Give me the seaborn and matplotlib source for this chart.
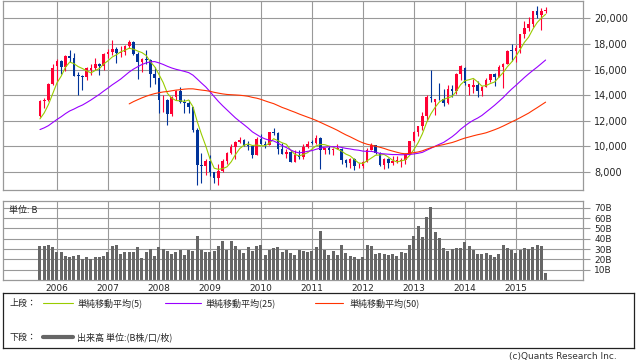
import numpy as np
import pandas as pd
import matplotlib
matplotlib.use("Agg")
import matplotlib.pyplot as plt
import seaborn as sns

# monthly candles, Sep 2005 .. Aug 2015 (last month partial)
months = pd.period_range("2005-09", "2015-08", freq="M")

# closes before the visible range, only used to warm up the moving averages
prior_close = [8425, 9083, 9563, 10344, 10219, 10560, 10101, 10677,
               10784, 11042, 11715, 11762, 11236, 11858, 11326, 11082, 10824, 10771, 10899, 11489,
               11388, 11740, 11669, 11009, 11277, 11584, 11900, 12414]

opens = [12414, 13574, 13606, 14872,
         16250, 16650, 16205, 17060, 16906, 15520, 15505, 15457, 16000, 16128, 16399, 16274,
         17226, 17383, 17604, 17288, 17400, 17876, 18138, 17248, 16569, 16786, 16737, 15680,
         15308, 13592, 13603, 12525, 13849, 14338, 13481, 13376, 13072, 11259, 8577, 8512,
         8860, 7994, 7568, 8109, 8828, 9522, 9958, 10356, 10492, 10133, 10034, 9345,
         10546, 10198, 10126, 11089, 11057, 9768, 9382, 9537, 8824, 9369, 9202, 9937,
         10352, 10237, 10624, 9708, 9849, 9693, 9816, 9833, 8955, 8700, 8988, 8434,
         8455, 8802, 9723, 10083, 9520, 8542, 9006, 8695, 8839, 8870, 8928, 9446,
         10395, 11138, 11559, 12397, 13860, 13500, 13677, 13668, 13389, 14455, 14327, 15662,
         16150, 14600, 14650, 14828, 14304, 14632, 15162, 15621, 15425, 16174, 16414, 17460,
         17451, 17674, 18798, 19207, 19520, 20563, 20236, 20585]
highs = [13617, 13769, 14956, 16446,
         16800, 16777, 17125, 17563, 17317, 15800, 15600, 16200, 16400, 16900, 16500, 17300,
         17600, 18300, 17750, 17800, 17900, 18300, 18262, 17400, 16900, 17488, 16800, 16200,
         15350, 14000, 13700, 13900, 14439, 14600, 13700, 13600, 13100, 11400, 9500, 9000,
         9325, 8000, 8600, 9000, 9600, 10170, 10400, 10767, 10600, 10400, 10100, 10700,
         10982, 10400, 11100, 11408, 11100, 10238, 9800, 9700, 9700, 9700, 10200, 10400,
         10520, 10891, 10700, 9850, 10017, 9900, 10207, 9900, 9000, 9100, 9100, 8700,
         8900, 9866, 10255, 10100, 9550, 9100, 9100, 9222, 9288, 9100, 9500, 10433,
         11200, 11600, 12650, 13980, 15942, 13700, 14953, 14466, 14817, 14800, 15750, 16320,
         16164, 14900, 15300, 15100, 14700, 15376, 15646, 15700, 16374, 16533, 17520, 18030,
         17900, 18800, 19778, 20133, 20600, 20953, 20800, 20900]
lows = [12300, 12996, 13550, 14800,
        15059, 15630, 15900, 16600, 15460, 14045, 14437, 15200, 15600, 16000, 15600, 16000,
        16900, 17100, 16500, 17000, 17100, 17700, 17100, 15262, 15800, 16400, 14669, 14900,
        12573, 12700, 11691, 12400, 13600, 13400, 12600, 12600, 11100, 6995, 7162, 7800,
        7671, 7154, 7021, 8000, 8600, 9400, 9050, 10300, 10000, 9700, 9076, 9300,
        10200, 9868, 10100, 10900, 9400, 9380, 9091, 8807, 8800, 9000, 9000, 9900,
        10200, 10200, 8227, 9400, 9400, 9351, 9800, 8656, 8359, 8343, 8135, 8300,
        8349, 8800, 9700, 9400, 8500, 8238, 8328, 8550, 8700, 8400, 8600, 9400,
        10350, 10800, 11300, 12000, 13500, 12415, 13600, 13188, 13300, 13850, 14100, 15150,
        14800, 13995, 14200, 13885, 13964, 14600, 15000, 14753, 15400, 14529, 16400, 16672,
        16592, 17300, 18500, 19000, 19300, 19990, 19115, 20400]
closes = [13574, 13606, 14872, 16111,
          16650, 16205, 17060, 16906, 15467, 15505, 15457, 16140, 16128, 16399, 16274, 17226,
          17383, 17604, 17288, 17400, 17876, 18138, 17248, 16569, 16786, 16737, 15680, 15308,
          13592, 13603, 12525, 13849, 14338, 13481, 13376, 13072, 11259, 8577, 8512, 8860,
          7994, 7568, 8109, 8828, 9522, 9958, 10356, 10492, 10133, 10034, 9345, 10546,
          10198, 10126, 11089, 11057, 9768, 9382, 9537, 8824, 9369, 9202, 9937, 10228,
          10237, 10624, 9755, 9849, 9693, 9816, 9833, 8955, 8700, 8988, 8434, 8455,
          8802, 9723, 10083, 9520, 8542, 9006, 8695, 8839, 8870, 8928, 9446, 10395,
          11138, 11559, 12397, 13860, 13774, 13677, 13668, 13389, 14455, 14327, 15662, 16291,
          14914, 14841, 14828, 14304, 14632, 15162, 15621, 15425, 16174, 16414, 17460, 17451,
          17674, 18798, 19207, 19520, 20563, 20236, 20585, 20650]
# volume in billions of shares
volume_b = [32.6, 32.6, 34.0, 32.0,
            26.8, 27.4, 23.5, 22.0, 23.5, 24.5, 20.6, 22.6, 20.6, 22.0, 22.0, 23.5,
            26.8, 32.6, 34.0, 25.5, 27.4, 27.4, 26.8, 31.6, 21.0, 26.8, 30.3, 23.0,
            31.6, 29.7, 28.4, 25.5, 26.8, 28.7, 24.5, 28.7, 28.0, 42.3, 28.7, 26.8,
            26.8, 27.7, 33.2, 38.0, 29.4, 38.0, 33.2, 29.4, 25.8, 31.6, 27.7, 33.2,
            34.0, 24.5, 28.7, 30.6, 31.6, 26.8, 29.4, 25.8, 24.5, 29.4, 27.7, 26.8,
            27.7, 31.6, 47.7, 29.4, 24.5, 28.4, 24.5, 34.2, 26.5, 23.5, 22.6, 20.6,
            22.0, 34.2, 33.2, 25.5, 26.5, 25.5, 24.5, 25.5, 23.5, 27.4, 26.5, 34.2,
            43.0, 52.6, 42.0, 61.3, 71.0, 46.8, 41.0, 31.3, 28.4, 30.3, 31.3, 31.3,
            37.1, 33.2, 29.4, 25.5, 25.5, 26.5, 24.5, 22.6, 25.5, 34.2, 31.3, 29.4,
            26.5, 29.4, 31.3, 30.3, 32.3, 34.2, 33.2, 7.0]

year_labels = [str(y) for y in range(2006, 2016)]
price_ticks = list(range(8000, 20001, 2000))
vol_ticks = list(range(10, 71, 10))

RED, BLUE = "#ff0033", "#003399"
MA_COLORS = {5: "#99cc00", 25: "#9900ff", 50: "#ff3300"}
VOL_COLOR = "#666666"
GRID = "#999999"

df = pd.DataFrame({"pos": np.arange(len(months)), "open": opens, "high": highs,
                   "low": lows, "close": closes, "volume": volume_b})
all_close = pd.Series(prior_close + closes, dtype=float)
for n in MA_COLORS:
    df[f"ma{n}"] = all_close.rolling(n).mean().iloc[len(prior_close):].to_numpy()

year_pos = df.pos[[m.month == 1 for m in months]].to_numpy()

sns.set_style("white")
plt.rcParams["font.family"] = ["DejaVu Sans", "Noto Sans CJK JP"]
CJK = ["Noto Sans CJK JP", "DejaVu Sans"]

W, H = 638, 362
fig = plt.figure(figsize=(W / 100, H / 100), dpi=100)


def px_axes(left, top, right, bottom):
    return fig.add_axes([left / W, 1 - bottom / H, (right - left) / W, (bottom - top) / H])


ax1 = px_axes(3, 1, 583, 190)
ax2 = px_axes(3, 201, 583, 280)
axl = px_axes(3, 293, 634, 348)

xlim = (-8.7, 127.8)

# upper panel: candles + moving averages
colors = np.where(df.close >= df.open, RED, BLUE)
ax1.vlines(df.pos, df.low, df.high, colors=colors, lw=0.8, zorder=2)
body = (df.close - df.open).abs().clip(lower=70)
ax1.bar(df.pos, body, bottom=np.minimum(df.open, df.close), width=0.62,
        color=colors, lw=0, zorder=3)
for n, c in MA_COLORS.items():
    d = df.dropna(subset=[f"ma{n}"])
    sns.lineplot(x=d.pos, y=d[f"ma{n}"], color=c, lw=0.8, ax=ax1, zorder=4)

ax1.set_xlim(*xlim)
ax1.set_ylim(6600, 21350)
ax1.set_xticks(year_pos)
ax1.set_yticks(price_ticks, [f"{t:,}" for t in price_ticks])
ax1.yaxis.tick_right()
ax1.tick_params(axis="x", length=0, labelbottom=False)
ax1.tick_params(axis="y", length=5, width=0.8, color=GRID, pad=3, labelsize=7)

# lower panel: volume
sns.barplot(x=df.pos, y=df.volume, native_scale=True, color=VOL_COLOR, saturation=1,
            width=0.72, errorbar=None, lw=0, ax=ax2)
ax2.set_xlim(*xlim)
ax2.set_ylim(0, 76.5)
ax2.set_xticks(year_pos, year_labels)
ax2.set_yticks(vol_ticks, [f"{t}B" for t in vol_ticks])
ax2.yaxis.tick_right()
ax2.tick_params(axis="x", length=0, pad=3, labelsize=6.5)
ax2.tick_params(axis="y", length=5, width=0.8, color=GRID, pad=3, labelsize=6.5)
ax2.text(6 / 580, (280 - 210) / 79, "単位: B", transform=ax2.transAxes,
         fontsize=6.5, va="center", family=CJK)

for ax in (ax1, ax2):
    ax.set_xlabel("")
    ax.set_ylabel("")
    ax.grid(True, color=GRID, lw=0.8)
    ax.set_axisbelow(True)
    for s in ax.spines.values():
        s.set_color(GRID)
        s.set_linewidth(0.9)

# legend box (coordinates in pixels inside the box)
axl.set_xlim(0, 631)
axl.set_ylim(55, 0)
axl.set_xticks([])
axl.set_yticks([])
for s in axl.spines.values():
    s.set_color("#222222")
    s.set_linewidth(0.9)
row1, row2 = 10, 44
axl.text(6, row1, "上段：", fontsize=6.5, va="center", family=CJK)
legend_items = [(40, 70, 74, 5), (162, 198, 203, 25), (312, 340, 347, 50)]
for x0, x1, tx, n in legend_items:
    axl.plot([x0, x1], [row1, row1], color=MA_COLORS[n], lw=0.8)
    axl.text(tx, row1, f"単純移動平均({n})", fontsize=6.5, va="center", family=CJK)
axl.text(6, row2, "下段：", fontsize=6.5, va="center", family=CJK)
axl.plot([40, 70], [row2, row2], color=VOL_COLOR, lw=3)
axl.text(74, row2, "出来高 単位:(B株/口/枚)", fontsize=6.5, va="center", family=CJK)

fig.text(617 / W, 1 - 356 / H, "(c)Quants Research Inc.", fontsize=6.5, color="#333333",
         ha="right", va="center")

fig.savefig("out.png", dpi=100)
